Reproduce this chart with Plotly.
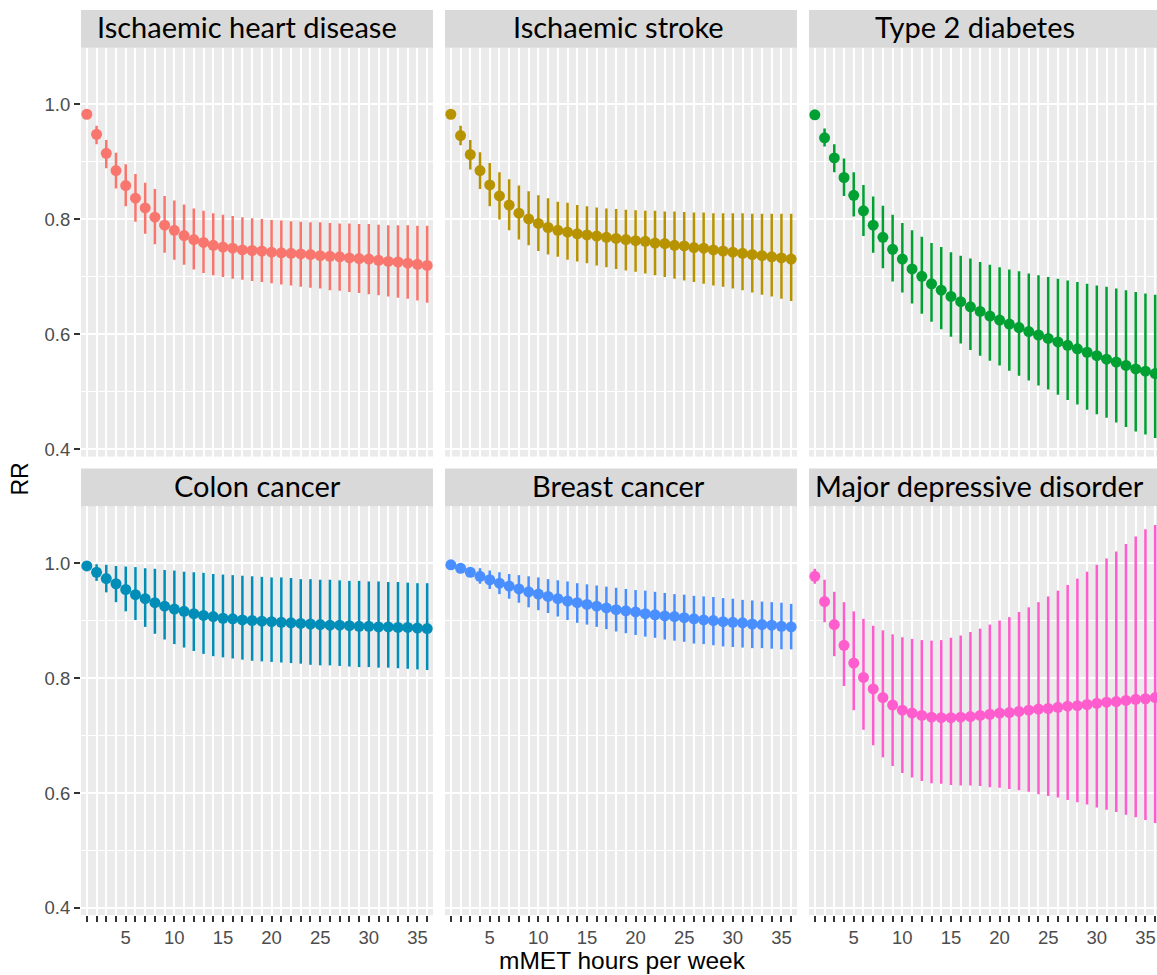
import plotly.graph_objects as go

W, H = 1157, 975

x_vals = list(range(1, 37))
x_tick_labels = {5: "5", 10: "10", 15: "15", 20: "20", 25: "25", 30: "30", 35: "35"}
y_tick_vals = [0.4, 0.6, 0.8, 1.0]
y_tick_text = ["0.4", "0.6", "0.8", "1.0"]

panels = ["Ischaemic heart disease", "Ischaemic stroke", "Type 2 diabetes",
          "Colon cancer", "Breast cancer", "Major depressive disorder"]
colors = ["#F8766D", "#B89300", "#00A032", "#008EB8", "#4A8FFF", "#FF5CCD"]

ihd_rr = [0.983,0.948,0.915,0.885,0.859,0.837,0.820,0.804,0.790,0.781,0.772,0.765,0.760,0.755,0.752,0.750,0.747,0.746,0.745,0.743,0.742,0.741,0.740,0.739,0.737,0.736,0.735,0.733,0.732,0.731,0.729,0.727,0.726,0.724,0.722,0.720]
ihd_lo = [0.978,0.931,0.889,0.854,0.823,0.796,0.775,0.757,0.742,0.730,0.721,0.713,0.707,0.703,0.700,0.697,0.695,0.693,0.691,0.689,0.687,0.685,0.683,0.681,0.680,0.677,0.676,0.674,0.672,0.670,0.668,0.666,0.664,0.662,0.659,0.655]
ihd_hi = [0.988,0.963,0.938,0.916,0.896,0.879,0.864,0.853,0.841,0.833,0.826,0.819,0.815,0.811,0.808,0.806,0.804,0.802,0.801,0.799,0.798,0.797,0.796,0.795,0.795,0.794,0.793,0.793,0.792,0.792,0.791,0.790,0.790,0.790,0.789,0.789]

is_rr = [0.983,0.946,0.913,0.885,0.860,0.841,0.825,0.811,0.801,0.793,0.786,0.781,0.778,0.775,0.773,0.771,0.769,0.767,0.765,0.763,0.762,0.759,0.758,0.755,0.754,0.751,0.750,0.747,0.745,0.743,0.741,0.739,0.737,0.735,0.733,0.731]
is_lo = [0.978,0.929,0.887,0.853,0.823,0.800,0.781,0.765,0.755,0.745,0.739,0.735,0.730,0.727,0.724,0.720,0.717,0.714,0.711,0.709,0.706,0.703,0.700,0.697,0.694,0.691,0.688,0.685,0.683,0.680,0.677,0.673,0.669,0.666,0.662,0.658]
is_hi = [0.988,0.963,0.938,0.917,0.898,0.882,0.870,0.859,0.849,0.842,0.837,0.831,0.829,0.825,0.823,0.821,0.819,0.818,0.817,0.816,0.815,0.815,0.814,0.814,0.813,0.812,0.812,0.811,0.811,0.811,0.811,0.810,0.810,0.810,0.810,0.810]

t2d_rr = [0.982,0.942,0.907,0.873,0.842,0.815,0.790,0.769,0.748,0.731,0.714,0.701,0.688,0.677,0.666,0.657,0.648,0.640,0.632,0.625,0.618,0.612,0.605,0.599,0.593,0.587,0.581,0.575,0.569,0.563,0.557,0.552,0.546,0.540,0.536,0.532]
t2d_lo = [0.977,0.927,0.882,0.841,0.805,0.771,0.742,0.715,0.692,0.673,0.654,0.636,0.622,0.609,0.596,0.584,0.573,0.563,0.554,0.546,0.537,0.528,0.520,0.511,0.504,0.495,0.486,0.478,0.469,0.461,0.455,0.447,0.439,0.431,0.426,0.420]
t2d_hi = [0.987,0.958,0.931,0.906,0.882,0.860,0.840,0.824,0.808,0.794,0.781,0.770,0.759,0.752,0.743,0.737,0.732,0.726,0.721,0.717,0.713,0.710,0.706,0.703,0.700,0.697,0.694,0.691,0.688,0.685,0.683,0.680,0.677,0.674,0.671,0.669]

colon_rr = [0.995,0.984,0.973,0.964,0.954,0.945,0.938,0.931,0.925,0.920,0.916,0.912,0.909,0.907,0.904,0.903,0.901,0.900,0.899,0.898,0.897,0.896,0.895,0.894,0.893,0.892,0.892,0.891,0.890,0.890,0.889,0.889,0.888,0.888,0.887,0.886]
colon_lo = [0.992,0.969,0.949,0.932,0.916,0.901,0.889,0.877,0.867,0.859,0.853,0.847,0.842,0.838,0.836,0.834,0.832,0.830,0.829,0.828,0.827,0.826,0.825,0.823,0.822,0.822,0.821,0.820,0.819,0.819,0.818,0.818,0.817,0.816,0.815,0.814]
colon_hi = [0.998,0.998,0.997,0.995,0.994,0.993,0.991,0.990,0.988,0.987,0.985,0.984,0.983,0.981,0.980,0.979,0.978,0.977,0.976,0.975,0.975,0.974,0.972,0.972,0.971,0.971,0.970,0.969,0.969,0.968,0.968,0.967,0.967,0.966,0.965,0.965]

breast_rr = [0.997,0.991,0.984,0.977,0.971,0.965,0.960,0.955,0.950,0.946,0.942,0.938,0.934,0.931,0.928,0.925,0.922,0.919,0.917,0.915,0.912,0.910,0.908,0.907,0.905,0.903,0.901,0.900,0.898,0.897,0.896,0.894,0.893,0.892,0.890,0.889]
breast_lo = [0.994,0.987,0.978,0.964,0.955,0.946,0.938,0.931,0.923,0.918,0.913,0.907,0.901,0.896,0.893,0.889,0.885,0.881,0.878,0.875,0.872,0.870,0.867,0.865,0.863,0.860,0.859,0.857,0.855,0.854,0.853,0.852,0.852,0.851,0.850,0.850]
breast_hi = [0.999,0.995,0.990,0.991,0.987,0.984,0.981,0.979,0.977,0.975,0.972,0.970,0.968,0.965,0.963,0.961,0.959,0.957,0.955,0.953,0.952,0.950,0.948,0.946,0.945,0.943,0.942,0.941,0.939,0.938,0.936,0.935,0.933,0.932,0.931,0.929]

mdd_rr = [0.977,0.933,0.893,0.857,0.826,0.801,0.781,0.766,0.753,0.744,0.739,0.735,0.732,0.731,0.731,0.732,0.733,0.735,0.737,0.739,0.740,0.742,0.744,0.746,0.747,0.749,0.751,0.752,0.754,0.756,0.758,0.759,0.761,0.763,0.764,0.766]
mdd_lo = [0.964,0.897,0.838,0.786,0.744,0.710,0.683,0.662,0.647,0.635,0.627,0.621,0.617,0.616,0.614,0.613,0.613,0.612,0.610,0.609,0.607,0.605,0.602,0.598,0.595,0.592,0.588,0.584,0.580,0.575,0.571,0.567,0.562,0.558,0.553,0.548]
mdd_hi = [0.990,0.971,0.950,0.932,0.916,0.903,0.891,0.883,0.876,0.871,0.868,0.866,0.865,0.866,0.870,0.874,0.880,0.886,0.893,0.900,0.906,0.915,0.923,0.932,0.942,0.952,0.962,0.973,0.985,0.997,1.008,1.020,1.033,1.046,1.059,1.066]

series = [(ihd_rr, ihd_lo, ihd_hi), (is_rr, is_lo, is_hi), (t2d_rr, t2d_lo, t2d_hi),
          (colon_rr, colon_lo, colon_hi), (breast_rr, breast_lo, breast_hi), (mdd_rr, mdd_lo, mdd_hi)]

# layout geometry (reference pixels)
col_px = [(81, 433), (445, 797), (809, 1157)]
row_px = [(48, 458), (508, 918)]
strip_px = [(10, 48), (470, 508)]
strip_text_x = [247, 618, 975, 257, 618, 979]
px_per_unit = 352 / 36.2
x_ranges = [[0.4, 36.6], [0.4, 36.6], [0.4, 0.4 + (1157 - 809) / px_per_unit]]
y_range = [0.3875, 1.0985]

def fx(p):
    return p / W

def fy(p):
    return 1 - p / H

fig = go.Figure()
layout = dict(width=W, height=H, margin=dict(l=0, r=0, t=0, b=0),
              paper_bgcolor="white", plot_bgcolor="#EBEBEB", showlegend=False)
shapes = []
annotations = []

tick_font = dict(family="Liberation Sans, Arial, sans-serif", size=18.5, color="#4D4D4D")

for i, name in enumerate(panels):
    r, c = divmod(i, 3)
    idx = "" if i == 0 else str(i + 1)
    rr, lo, hi = series[i]
    fig.add_trace(go.Scatter(
        x=x_vals, y=rr, mode="markers",
        marker=dict(color=colors[i], size=11, line=dict(width=0)),
        error_y=dict(type="data", symmetric=False,
                     array=[h - v for h, v in zip(hi, rr)],
                     arrayminus=[v - l for v, l in zip(rr, lo)],
                     color=colors[i], thickness=2.5, width=0),
        xaxis="x" + idx, yaxis="y" + idx,
    ))
    bottom = (r == 1)
    left = (c == 0)
    layout["xaxis" + idx] = dict(
        domain=[fx(col_px[c][0]), fx(col_px[c][1])], anchor="y" + idx,
        range=x_ranges[c], showgrid=True, gridcolor="white", gridwidth=1.7,
        zeroline=False, showline=False,
        tickmode="array", tickvals=x_vals,
        ticktext=[x_tick_labels.get(v, "") for v in x_vals],
        showticklabels=bottom, ticks="outside" if bottom else "",
        ticklen=6, tickwidth=1.7, tickcolor="#333333", tickfont=tick_font,
    )
    layout["yaxis" + idx] = dict(
        domain=[fy(row_px[r][1]), fy(row_px[r][0])], anchor="x" + idx,
        range=y_range, showgrid=True, gridcolor="white", gridwidth=1.7,
        zeroline=False, showline=False,
        tickmode="array", tickvals=y_tick_vals, ticktext=y_tick_text,
        showticklabels=left, ticks="outside" if left else "",
        ticklen=6, tickwidth=1.7, tickcolor="#333333", tickfont=tick_font,
        minor=dict(dtick=0.1, tick0=0.4, showgrid=True, gridcolor="white", gridwidth=0.9, ticks=""),
    )
    s0, s1 = strip_px[r]
    shapes.append(dict(type="rect", xref="paper", yref="paper",
                       x0=fx(col_px[c][0]), x1=fx(col_px[c][1]),
                       y0=fy(s1), y1=fy(s0), fillcolor="#D9D9D9",
                       line=dict(width=0), layer="below"))
    annotations.append(dict(text=name, xref="paper", yref="paper",
                            x=fx(strip_text_x[i]), y=fy((s0 + s1) / 2 - 2),
                            xanchor="center", yanchor="middle", showarrow=False,
                            font=dict(family="Lato, sans-serif", size=29, color="black")))

annotations.append(dict(text="mMET hours per week", xref="paper", yref="paper",
                        x=fx(622), y=fy(963), xanchor="center", yanchor="middle",
                        showarrow=False,
                        font=dict(family="Liberation Sans, Arial, sans-serif", size=24.5, color="black")))
annotations.append(dict(text="RR", xref="paper", yref="paper",
                        x=fx(20), y=fy(481), xanchor="center", yanchor="middle",
                        textangle=-90, showarrow=False,
                        font=dict(family="Liberation Sans, Arial, sans-serif", size=23, color="black")))

layout["shapes"] = shapes
layout["annotations"] = annotations
fig.update_layout(**layout)
fig.write_html("out.html", config={"displayModeBar": False},
               post_script="document.body.style.margin='0px';")
